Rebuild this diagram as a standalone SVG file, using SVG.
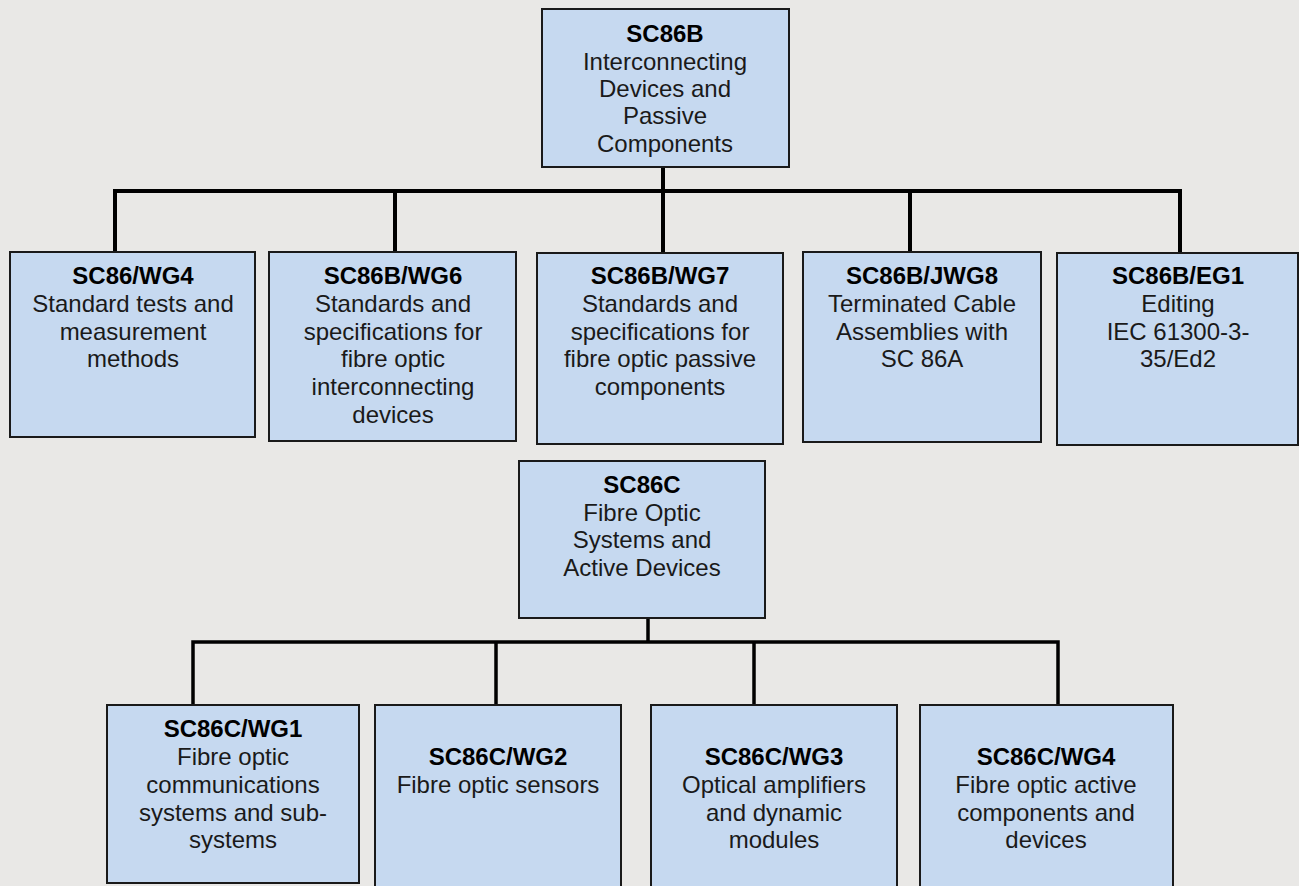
<svg xmlns="http://www.w3.org/2000/svg" width="1299" height="886" viewBox="0 0 1299 886">
<style>
.box{fill:#c6d9f0;stroke:#1a1a1a;stroke-width:2}
text{font-family:"Liberation Sans",Arial,sans-serif;font-size:24px;fill:#1a1a1a;text-anchor:middle}
.t{font-weight:bold;fill:#000}
.c{fill:none;stroke:#000;stroke-width:4;stroke-linecap:square}
.c2{fill:none;stroke:#000;stroke-width:3.5;stroke-linecap:square}
</style>
<rect width="1299" height="886" fill="#e9e8e6"/>
<g id="connectors">
<path class="c" d="M663 168V252M115 191H1180M115 191V252M395 191V252M910 191V252M1180 191V252"/>
<path class="c2" d="M648 619V642M193 642H1058M193 642V704M496 642V704M754 642V704M1058 642V704"/>
</g>
<g id="SC86B">
<rect class="box" x="542" y="9" width="247" height="158"/>
<text x="665" y="42" class="t">SC86B</text>
<text x="665" y="70">Interconnecting</text>
<text x="665" y="97">Devices and</text>
<text x="665" y="124">Passive</text>
<text x="665" y="152">Components</text>
</g>
<g id="SC86_WG4">
<rect class="box" x="10" y="252" width="245" height="185"/>
<text x="133" y="284" class="t">SC86/WG4</text>
<text x="133" y="312">Standard tests and</text>
<text x="133" y="340">measurement</text>
<text x="133" y="367">methods</text>
</g>
<g id="SC86B_WG6">
<rect class="box" x="269" y="252" width="247" height="189"/>
<text x="393" y="284" class="t">SC86B/WG6</text>
<text x="393" y="312">Standards and</text>
<text x="393" y="340">specifications for</text>
<text x="393" y="367">fibre optic</text>
<text x="393" y="395">interconnecting</text>
<text x="393" y="423">devices</text>
</g>
<g id="SC86B_WG7">
<rect class="box" x="537" y="253" width="246" height="191"/>
<text x="660" y="284" class="t">SC86B/WG7</text>
<text x="660" y="312">Standards and</text>
<text x="660" y="340">specifications for</text>
<text x="660" y="367">fibre optic passive</text>
<text x="660" y="395">components</text>
</g>
<g id="SC86B_JWG8">
<rect class="box" x="803" y="252" width="238" height="190"/>
<text x="922" y="284" class="t">SC86B/JWG8</text>
<text x="922" y="312">Terminated Cable</text>
<text x="922" y="340">Assemblies with</text>
<text x="922" y="367">SC 86A</text>
</g>
<g id="SC86B_EG1">
<rect class="box" x="1057" y="253" width="241" height="192"/>
<text x="1178" y="284" class="t">SC86B/EG1</text>
<text x="1178" y="312">Editing</text>
<text x="1178" y="340">IEC 61300-3-</text>
<text x="1178" y="367">35/Ed2</text>
</g>
<g id="SC86C">
<rect class="box" x="519" y="461" width="246" height="157"/>
<text x="642" y="493" class="t">SC86C</text>
<text x="642" y="521">Fibre Optic</text>
<text x="642" y="548">Systems and</text>
<text x="642" y="576">Active Devices</text>
</g>
<g id="SC86C_WG1">
<rect class="box" x="107" y="705" width="252" height="178"/>
<text x="233" y="737" class="t">SC86C/WG1</text>
<text x="233" y="765">Fibre optic</text>
<text x="233" y="793">communications</text>
<text x="233" y="821">systems and sub-</text>
<text x="233" y="848">systems</text>
</g>
<g id="SC86C_WG2">
<rect class="box" x="375" y="705" width="246" height="190"/>
<text x="498" y="765" class="t">SC86C/WG2</text>
<text x="498" y="793">Fibre optic sensors</text>
</g>
<g id="SC86C_WG3">
<rect class="box" x="651" y="705" width="246" height="190"/>
<text x="774" y="765" class="t">SC86C/WG3</text>
<text x="774" y="793">Optical amplifiers</text>
<text x="774" y="821">and dynamic</text>
<text x="774" y="848">modules</text>
</g>
<g id="SC86C_WG4">
<rect class="box" x="920" y="705" width="253" height="190"/>
<text x="1046" y="765" class="t">SC86C/WG4</text>
<text x="1046" y="793">Fibre optic active</text>
<text x="1046" y="821">components and</text>
<text x="1046" y="848">devices</text>
</g>
</svg>
